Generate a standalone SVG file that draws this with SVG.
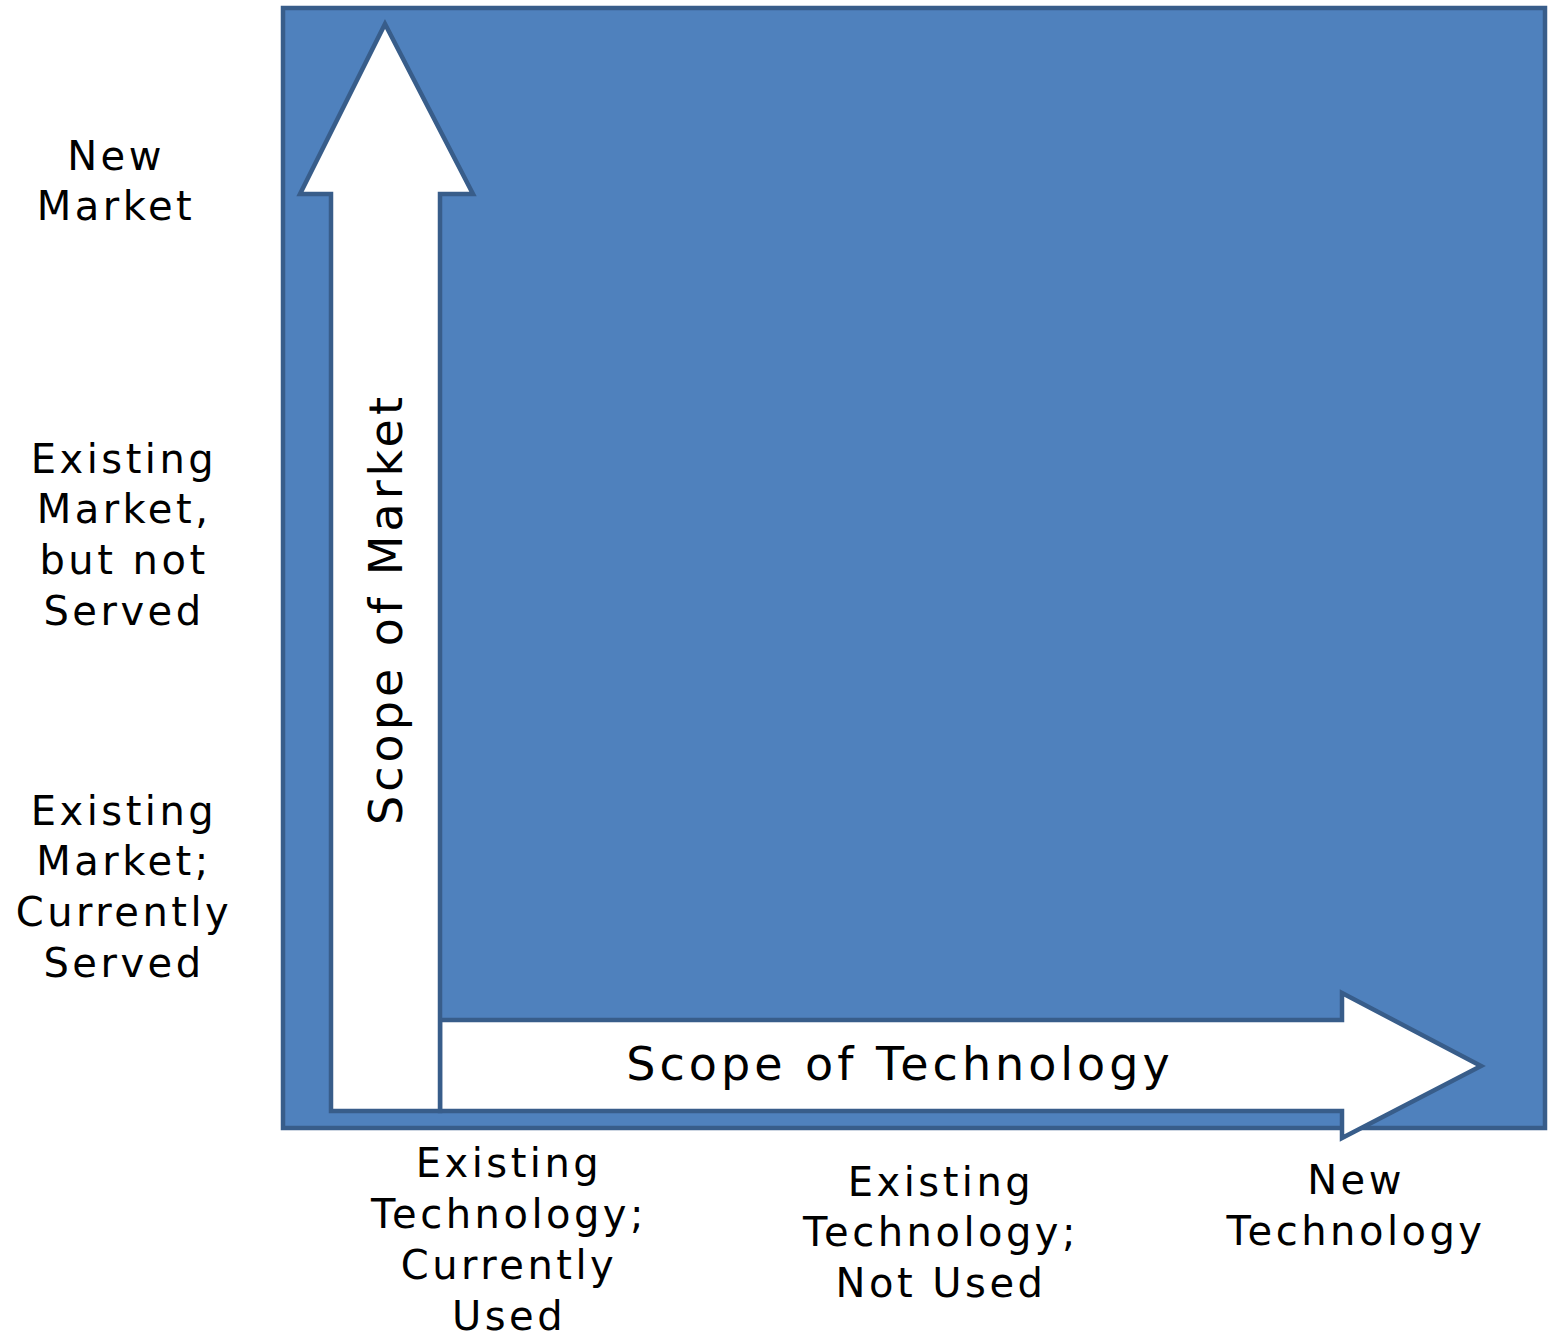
<svg xmlns="http://www.w3.org/2000/svg" width="1554" height="1338" viewBox="0 0 1554 1338">
<style>
.frame{fill:#4F81BD;stroke:#385D8A;stroke-width:4.5}
.arrow{fill:#FFFFFF;stroke:#385D8A;stroke-width:4.5;stroke-linejoin:miter}
.lbl{font-family:"DejaVu Sans",Verdana,sans-serif;font-size:40px;letter-spacing:3.5px;fill:#000;text-anchor:middle}
.axis{font-family:"DejaVu Sans",Verdana,sans-serif;font-size:46px;letter-spacing:4px;fill:#000;text-anchor:middle}
</style>
<rect width="1554" height="1338" fill="#FFFFFF"/>
<g id="frame"><rect class="frame" x="283" y="8" width="1262" height="1120"/></g>
<g id="connectors">
<polygon id="tech-arrow" class="arrow" points="440,1020 1342,1020 1342,993 1481,1066 1342,1138 1342,1111 440,1111"/>
<polygon id="market-arrow" class="arrow" points="331,1111 331,194 300,194 385,24 473,194 440,194 440,1111"/>
</g>
<g id="axis-technology"><text class="axis" x="900" y="1080">Scope of Technology</text></g>
<g id="axis-market"><text class="axis" transform="translate(402,609) rotate(-90)" x="0" y="0">Scope of Market</text></g>
<g id="new-market"><text class="lbl" x="116" y="170">New</text><text class="lbl" x="116" y="220">Market</text></g>
<g id="existing-market-not-served"><text class="lbl" x="124" y="473">Existing</text><text class="lbl" x="124" y="523">Market,</text><text class="lbl" x="124" y="574">but not</text><text class="lbl" x="124" y="625">Served</text></g>
<g id="existing-market-served"><text class="lbl" x="124" y="825">Existing</text><text class="lbl" x="124" y="875">Market;</text><text class="lbl" x="124" y="926">Currently</text><text class="lbl" x="124" y="977">Served</text></g>
<g id="existing-tech-used"><text class="lbl" x="509" y="1177">Existing</text><text class="lbl" x="509" y="1228">Technology;</text><text class="lbl" x="509" y="1279">Currently</text><text class="lbl" x="509" y="1330">Used</text></g>
<g id="existing-tech-not-used"><text class="lbl" x="941" y="1196">Existing</text><text class="lbl" x="941" y="1246">Technology;</text><text class="lbl" x="941" y="1297">Not Used</text></g>
<g id="new-tech"><text class="lbl" x="1356" y="1194">New</text><text class="lbl" x="1356" y="1245">Technology</text></g>
</svg>
